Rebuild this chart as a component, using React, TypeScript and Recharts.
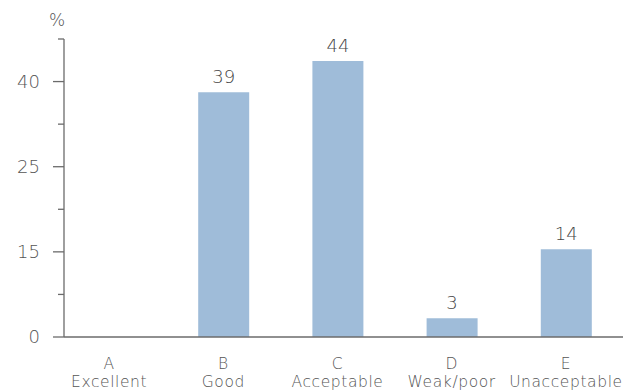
import React from 'react';
import { BarChart, Bar, XAxis, YAxis, LabelList } from 'recharts';

const letters = ['A', 'B', 'C', 'D', 'E'];
const names = ['Excellent', 'Good', 'Acceptable', 'Weak/poor', 'Unacceptable'];
const values = [0, 39, 44, 3, 14];
const yMax = 47.5;
const yTickLabels = ['0', '', '15', '', '25', '', '40', ''];

const data = letters.map((l, i) => ({ letter: l, name: names[i], value: values[i] }));
const yTicks = yTickLabels.map((_, i) => (i * yMax) / (yTickLabels.length - 1));

const FONT = '"DejaVu Sans", sans-serif';
const GREY = '#6b6b6b';

const YTick = (props: any) => {
    const { y, payload } = props;
    const i = Math.round((payload.value / yMax) * (yTickLabels.length - 1));
    const label = yTickLabels[i];
    const major = label !== '';
    return (
        <g>
            <line x1={major ? 53 : 58} x2={64} y1={y} y2={y} stroke={GREY} strokeWidth={1.3} />
            {major && (
                <text x={40} y={y} dy={6} textAnchor="end" fill="#555" fontSize={18} fontFamily={FONT} fontWeight={200}>
                    {label}
                </text>
            )}
        </g>
    );
};

const XTick = (props: any) => {
    const { x, y, payload } = props;
    const i = letters.indexOf(payload.value);
    return (
        <text x={x} y={y} textAnchor="middle" fill="#555" fontSize={15.5} letterSpacing={0.6} fontFamily={FONT} fontWeight={200}>
            <tspan x={x} dy={24}>{letters[i]}</tspan>
            <tspan x={x} dy={18}>{names[i]}</tspan>
        </text>
    );
};

export default function App() {
    return (
        <div style={{ position: 'absolute', left: 0, top: 0, background: '#fff' }}>
            <BarChart width={627} height={392} data={data} margin={{ top: 39, right: 4, bottom: 0, left: 0 }}>
                <text x={57} y={26} textAnchor="middle" fill="#555" fontSize={17} fontFamily={FONT} fontWeight={200}>
                    %
                </text>
                <XAxis
                    dataKey="letter"
                    interval={0}
                    tickLine={false}
                    axisLine={{ stroke: GREY, strokeWidth: 1.3 }}
                    tick={<XTick />}
                    height={55}
                    padding={{ left: -12, right: 0 }}
                />
                <YAxis
                    domain={[0, yMax]}
                    ticks={yTicks}
                    interval={0}
                    width={64}
                    tickLine={false}
                    axisLine={{ stroke: GREY, strokeWidth: 1.3 }}
                    tick={<YTick />}
                />
                <Bar dataKey="value" fill="#9fbcd9" barSize={51} isAnimationActive={false}>
                    <LabelList
                        dataKey="value"
                        position="top"
                        offset={9}
                        fill="#444"
                        fontSize={18}
                        fontFamily={FONT}
                        fontWeight={200}
                        formatter={(v: any) => (v ? v : '')}
                    />
                </Bar>
            </BarChart>
        </div>
    );
}
